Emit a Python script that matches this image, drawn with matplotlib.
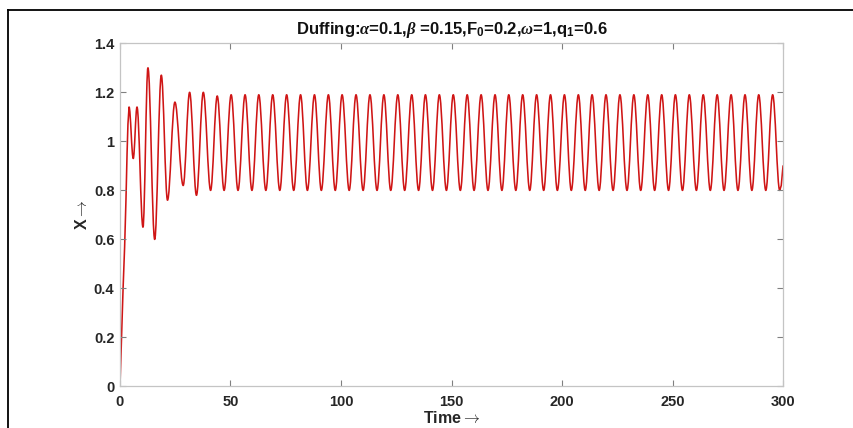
import matplotlib
matplotlib.use("Agg")
import matplotlib.pyplot as plt
from matplotlib.path import Path
from matplotlib.patches import PathPatch
from matplotlib.lines import Line2D

# ---------------------------------------------------------------------------
# Data (Duffing response x(t))
# ---------------------------------------------------------------------------
# start-up climb from x = 0
rise_t = [0.0, 0.7, 1.4, 2.1, 2.7, 3.2, 3.6]
rise_x = [0.0, 0.20, 0.40, 0.57, 0.76, 0.95, 1.07]

# local maxima
peak_t = [4.1, 7.7, 12.65, 18.7, 24.85, 31.5, 37.7,
          44.0, 50.3, 56.6, 62.8, 69.1, 75.4, 81.7, 88.0, 94.3, 100.5,
          106.8, 113.1, 119.4, 125.7, 132.0, 138.2, 144.5, 150.8, 157.1,
          163.4, 169.7, 175.9, 182.2, 188.5, 194.8, 201.1, 207.4, 213.6,
          219.9, 226.2, 232.5, 238.8, 245.1, 251.3, 257.6, 263.9, 270.2,
          276.5, 282.8, 289.0, 295.3]
peak_x = [1.14, 1.14, 1.30, 1.27, 1.16, 1.20, 1.20,
          1.185, 1.19, 1.19, 1.19, 1.19, 1.19, 1.19, 1.19, 1.19, 1.19,
          1.19, 1.19, 1.19, 1.19, 1.19, 1.19, 1.19, 1.19, 1.19,
          1.19, 1.19, 1.19, 1.19, 1.19, 1.19, 1.19, 1.19, 1.19,
          1.19, 1.19, 1.19, 1.19, 1.19, 1.19, 1.19, 1.19, 1.19,
          1.19, 1.19, 1.19, 1.19]

# local minima
trough_t = [6.0, 10.4, 15.7, 21.5, 28.6, 34.6, 41.0,
            47.1, 53.4, 59.7, 66.0, 72.3, 78.6, 84.8, 91.1, 97.4, 103.7,
            110.0, 116.3, 122.5, 128.8, 135.1, 141.4, 147.7, 154.0, 160.2,
            166.5, 172.8, 179.1, 185.4, 191.7, 197.9, 204.2, 210.5, 216.8,
            223.1, 229.4, 235.6, 241.9, 248.2, 254.5, 260.8, 267.1, 273.3,
            279.6, 285.9, 292.2, 298.5]
trough_x = [0.93, 0.65, 0.60, 0.76, 0.82, 0.78, 0.80,
            0.80, 0.80, 0.80, 0.80, 0.80, 0.80, 0.80, 0.80, 0.80, 0.80,
            0.80, 0.80, 0.80, 0.80, 0.80, 0.80, 0.80, 0.80, 0.80,
            0.80, 0.80, 0.80, 0.80, 0.80, 0.80, 0.80, 0.80, 0.80,
            0.80, 0.80, 0.80, 0.80, 0.80, 0.80, 0.80, 0.80, 0.80,
            0.80, 0.80, 0.80, 0.80]

# end of the record
tail_t = [299.2, 300.0]
tail_x = [0.82, 0.90]

x_ticks = [0, 50, 100, 150, 200, 250, 300]
y_ticks = [0, 0.2, 0.4, 0.6, 0.8, 1.0, 1.2, 1.4]

TITLE = (r"Duffing:$\alpha$=0.1,$\beta$ =0.15,F$_0$=0.2,"
         r"$\omega$=1,q$_1$=0.6")

# ---------------------------------------------------------------------------
# Build a smooth path: straight climb, then cubic segments between extrema
# (horizontal tangents at every max/min)
# ---------------------------------------------------------------------------
ext = []
for a, b, c, d in zip(peak_t, peak_x, trough_t, trough_x):
    ext += [(a, b), (c, d)]

verts = [(rise_t[0], rise_x[0])]
codes = [Path.MOVETO]
for t, x in zip(rise_t[1:], rise_x[1:]):
    verts.append((t, x))
    codes.append(Path.LINETO)
verts.append(ext[0])
codes.append(Path.LINETO)

K = 0.363  # handle length that makes a cubic follow a half cosine
for (t0, x0), (t1, x1) in zip(ext[:-1], ext[1:]):
    h = K * (t1 - t0)
    verts += [(t0 + h, x0), (t1 - h, x1), (t1, x1)]
    codes += [Path.CURVE4] * 3

for t, x in zip(tail_t, tail_x):
    verts.append((t, x))
    codes.append(Path.LINETO)

# ---------------------------------------------------------------------------
# Figure
# ---------------------------------------------------------------------------
plt.rcParams["font.family"] = ["Liberation Sans", "DejaVu Sans"]
plt.rcParams["font.weight"] = "bold"
plt.rcParams["mathtext.fontset"] = "cm"
# used by the title only (math_fontfamily="custom"): bold sans digits,
# italic serif greek letters
plt.rcParams["mathtext.rm"] = "Liberation Sans:bold"
plt.rcParams["mathtext.bf"] = "Liberation Sans:bold"
plt.rcParams["mathtext.it"] = "Liberation Serif:italic"

fig = plt.figure(figsize=(8.54, 4.28), dpi=100)
ax = fig.add_axes([0.1405, 0.097, 0.7764, 0.8018])

ax.add_patch(PathPatch(Path(verts, codes), fill=False, edgecolor="#cf1515",
                       linewidth=1.15, joinstyle="round", capstyle="round"))

ax.set_xlim(0, 300)
ax.set_ylim(0, 1.4)
ax.set_xticks(x_ticks)
ax.set_yticks(y_ticks)
ax.set_xticklabels([f"{v:g}" for v in x_ticks])
ax.set_yticklabels([f"{v:g}" for v in y_ticks])

for s in ax.spines.values():
    s.set_color("#c4c4c4")
    s.set_linewidth(0.9)
ax.tick_params(direction="in", length=4, width=0.8, color="#808080",
               top=True, right=True, labelsize=10.5, labelcolor="#262626")
ax.tick_params(axis="x", pad=6)
ax.tick_params(axis="y", pad=4)
for lab in ax.get_xticklabels() + ax.get_yticklabels():
    lab.set_fontweight("bold")

ax.set_xlabel(r"Time$\rightarrow$", fontsize=11.5, fontweight="bold",
              color="#262626", labelpad=1)
ax.set_ylabel(r"X$\rightarrow$", fontsize=11.5, fontweight="bold",
              color="#262626", labelpad=3)
ax.set_title(TITLE, fontsize=12, fontweight="bold", color="#111111", pad=7,
             math_fontfamily="custom")

# screenshot frame (left and top edges)
fx = 8 / 854
fy = 1 - 10 / 428
fig.add_artist(Line2D([fx, fx], [0, fy], transform=fig.transFigure,
                      color="black", linewidth=1.3))
fig.add_artist(Line2D([fx, 853 / 854], [fy, fy], transform=fig.transFigure,
                      color="black", linewidth=1.3))

fig.savefig("out.png", dpi=100)
